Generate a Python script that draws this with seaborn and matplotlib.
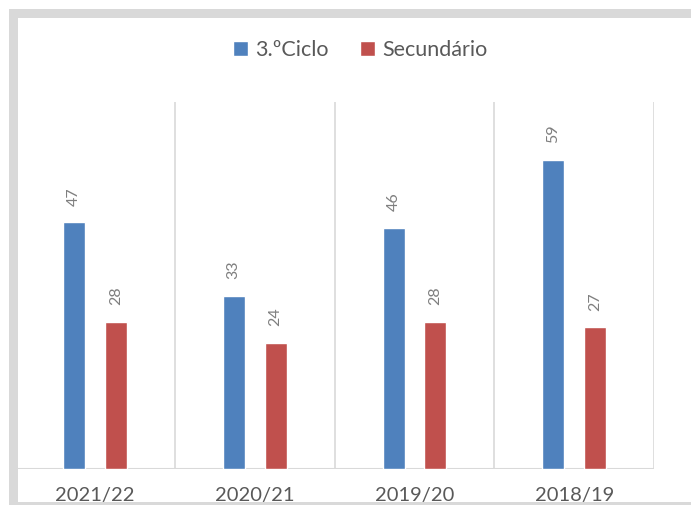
import pandas as pd
import numpy as np
import matplotlib.pyplot as plt
import seaborn as sns
from matplotlib.patches import Rectangle

# Values
years = ['2021/22', '2020/21', '2019/20', '2018/19']
ciclo3 = [47, 33, 46, 59]
secundario = [28, 24, 28, 27]
series_names = ['3.ºCiclo', 'Secundário']

df = pd.DataFrame({
    'Ano': years * 2,
    'Valor': ciclo3 + secundario,
    'Nível': [series_names[0]] * 4 + [series_names[1]] * 4,
})

sns.set_style('white')
plt.rcParams['font.family'] = ['Lato', 'DejaVu Sans']

fig = plt.figure(figsize=(6.91, 5.05), dpi=100)
ax = fig.add_axes([0.0217, 0.0713, 0.925, 0.727])

palette = {'3.ºCiclo': '#4F81BD', 'Secundário': '#C0504D'}
sns.barplot(data=df, x='Ano', y='Valor', hue='Nível', order=years,
            hue_order=series_names, palette=palette, width=0.524,
            saturation=1, ax=ax)

# make bars thinner, keep their centers
bar_w = 0.1375
for p in ax.patches:
    if p.get_height() > 0:
        c = p.get_x() + p.get_width() / 2
        p.set_width(bar_w)
        p.set_x(c - bar_w / 2)

for cont in ax.containers:
    ax.bar_label(cont, labels=[f'{v:.0f}' for v in cont.datavalues],
                 rotation=90, padding=12, color='#7f7f7f', fontsize=11.5)

ax.set_ylim(0, 70)
ax.set_xlim(-0.5, 3.5)
for xb in np.arange(-0.5, 4.0, 1.0):
    ax.axvline(xb, color='#d9d9d9', lw=1.2, zorder=0)
ax.axhline(0, color='#d9d9d9', lw=1.5, zorder=0)

for s in ax.spines.values():
    s.set_visible(False)
ax.set_yticks([])
ax.set_xlabel('')
ax.set_ylabel('')
ax.tick_params(axis='x', length=0, pad=13, labelsize=14.5, labelcolor='#595959')

handles, labels = ax.get_legend_handles_labels()
ax.legend(handles, labels, loc='center', bbox_to_anchor=(0.54, 1.14),
          ncol=2, frameon=False, fontsize=15.5, labelcolor='#595959',
          handlelength=0.7, handleheight=0.7, handletextpad=0.3,
          columnspacing=1.5)

# gray outer frame (top, left, bottom)
W, H = 691, 505
gray = '#d9d9d9'
for (x0, y0, w, h) in [(9, 9, 682, 9), (9, 9, 9, 496), (9, 502, 682, 3)]:
    fig.patches.append(Rectangle((x0 / W, 1 - (y0 + h) / H), w / W, h / H,
                                 transform=fig.transFigure, color=gray,
                                 lw=0, zorder=10))

fig.savefig('out.png', dpi=100)
